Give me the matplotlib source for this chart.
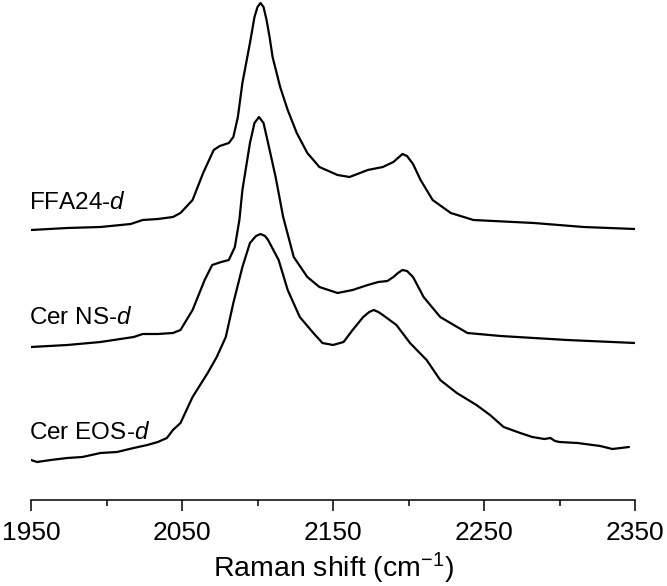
# Raman spectra (C-D stretching region) of deuterated lipids, stacked
import numpy as np
import matplotlib
matplotlib.use("Agg")
import matplotlib.pyplot as plt

plt.rcParams['font.family'] = ['Liberation Sans', 'DejaVu Sans']
plt.rcParams['mathtext.fontset'] = 'custom'
plt.rcParams['mathtext.rm'] = 'Liberation Sans'
plt.rcParams['mathtext.it'] = 'Liberation Sans:italic'

# FFA24-d
ffa_x = [1950, 1974, 1996, 2016, 2024, 2034, 2044, 2049, 2057, 2064, 2071, 2075, 2081, 2084,
         2087, 2090, 2095, 2098, 2100, 2102, 2104, 2106, 2108, 2110, 2115, 2120, 2126, 2133,
         2141, 2153, 2161, 2173, 2183, 2190, 2193, 2196, 2199, 2203, 2208, 2216, 2228, 2243,
         2283, 2316, 2350]
ffa_y = [0, 2, 3, 6, 10, 11, 13, 17, 30, 57, 80, 84, 87, 93,
         113, 147, 187, 213, 223, 227, 223, 210, 193, 173, 143, 120, 97, 77,
         63, 55, 53, 60, 63, 68, 72, 76, 74, 66, 50, 30, 17, 10,
         7, 3, 1]

# Cer NS-d
ns_x = [1950, 1974, 1996, 2018, 2024, 2034, 2044, 2049, 2057, 2065, 2070, 2076, 2081, 2085,
        2088, 2090, 2095, 2098, 2101, 2104, 2107, 2112, 2117, 2124, 2133, 2141, 2153, 2163,
        2173, 2180, 2186, 2190, 2193, 2196, 2199, 2203, 2210, 2221, 2239, 2261, 2305, 2350]
ns_y = [0, 2, 5, 10, 13, 13, 14, 17, 37, 67, 82, 85, 87, 100,
        127, 157, 204, 224, 230, 224, 204, 170, 130, 90, 70, 60, 54, 57,
        62, 65, 66, 70, 74, 77, 76, 70, 50, 30, 14, 11, 7, 4]

# Cer EOS-d
eos_x = [1950, 1954, 1963, 1974, 1984, 1996, 2007, 2018, 2027, 2034, 2040, 2044, 2049, 2057,
         2067, 2073, 2079, 2084, 2090, 2095, 2099, 2102, 2105, 2107, 2114, 2120, 2128, 2137,
         2143, 2150, 2157, 2163, 2170, 2174, 2177, 2180, 2183, 2192, 2201, 2212, 2221, 2232,
         2245, 2254, 2263, 2274, 2282, 2290, 2294, 2297, 2300, 2312, 2327, 2335, 2346]
eos_y = [0, -2, 0, 2, 3, 7, 8, 12, 15, 18, 22, 30, 37, 63,
         87, 103, 123, 157, 193, 217, 224, 226, 224, 220, 200, 170, 143, 127,
         117, 115, 118, 130, 143, 148, 150, 148, 145, 135, 117, 100, 80, 67,
         55, 45, 33, 27, 23, 21, 22, 19, 18, 17, 14, 11, 13]

labels = ['FFA24-$\\it{d}$', 'Cer NS-$\\it{d}$', 'Cer EOS-$\\it{d}$']
offsets = [270, 153, 40]
label_y = [297, 182, 67]

fig = plt.figure(figsize=(6.67, 5.86), dpi=100)
ax = fig.add_axes([31 / 667, 86 / 586, 604 / 667, 500 / 586])

series = [(ffa_x, ffa_y), (ns_x, ns_y), (eos_x, eos_y)]
for (xs, ys), off, lab, ly in zip(series, offsets, labels, label_y):
    ax.plot(xs, np.array(ys) + off, color='black', lw=1.6,
            solid_joinstyle='round', solid_capstyle='round')
    ax.text(1949, ly, lab, fontsize=17.5, ha='left', va='center')

ax.set_xlim(1950, 2350)
ax.set_ylim(0, 500)
for s in ['top', 'left', 'right']:
    ax.spines[s].set_visible(False)
ax.spines['bottom'].set_linewidth(1.1)
ax.set_yticks([])
ax.set_xticks([1950, 2050, 2150, 2250, 2350])
ax.set_xticks([2000, 2100, 2200, 2300], minor=True)
ax.tick_params(axis='x', which='major', length=8, width=1.1, labelsize=19, pad=7)
ax.tick_params(axis='x', which='minor', length=4.5, width=1.1)
ax.set_xlabel('Raman shift (cm$^{-1}$)', fontsize=20.5, labelpad=4)

fig.savefig('out.png', dpi=100)
